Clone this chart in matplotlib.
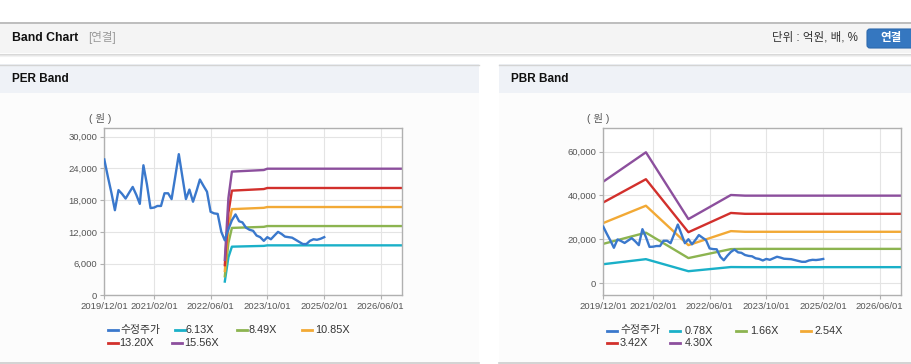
import matplotlib
matplotlib.use("Agg")
import matplotlib.pyplot as plt
import matplotlib.dates as mdates
from matplotlib.patches import Rectangle, FancyBboxPatch
import numpy as np
import datetime as dt

plt.rcParams['font.family'] = ['Liberation Sans', 'Noto Sans CJK KR', 'DejaVu Sans']

# ---------------- data ----------------
price_dates = [
    "2019-12", "2020-01", "2020-02", "2020-03", "2020-04", "2020-05", "2020-06", "2020-07",
    "2020-08", "2020-09", "2020-10", "2020-11", "2020-12", "2021-01", "2021-02", "2021-03",
    "2021-04", "2021-05", "2021-06", "2021-07", "2021-08", "2021-09", "2021-10", "2021-11",
    "2021-12", "2022-01", "2022-02", "2022-03", "2022-04", "2022-05", "2022-06", "2022-07",
    "2022-08", "2022-09", "2022-10", "2022-11", "2022-12", "2023-01", "2023-02", "2023-03",
    "2023-04", "2023-05", "2023-06", "2023-07", "2023-08", "2023-09", "2023-10", "2023-11",
    "2023-12", "2024-01", "2024-02", "2024-03", "2024-04", "2024-05", "2024-06", "2024-07",
    "2024-08", "2024-09", "2024-10", "2024-11", "2024-12", "2025-01", "2025-02"]
price_values = [
    25700, 22400, 19300, 16100, 19900, 19200, 18300, 19400,
    20500, 19000, 17300, 24600, 21000, 16500, 16600, 16900,
    16900, 19300, 19300, 18200, 22400, 26700, 22500, 18200,
    20000, 17700, 19800, 21900, 20700, 19600, 15800, 15500,
    15400, 12000, 10400, 12500, 14200, 15300, 14000, 13800,
    12800, 12400, 12200, 11300, 11000, 10300, 11000, 10600,
    11300, 12000, 11600, 11100, 11000, 10900, 10500, 10100,
    9700, 9700, 10300, 10600, 10500, 10700, 11000]

price_label = "수정주가"

per_band_dates = ["2022-10", "2022-11", "2022-12", "2023-09", "2023-10", "2026-12"]
per_labels = ["6.13X", "8.49X", "10.85X", "13.20X", "15.56X"]
per_b1 = [2600, 7200, 9200, 9350, 9450, 9450]
per_b2 = [3600, 9900, 12750, 12950, 13100, 13100]
per_b3 = [4600, 12800, 16300, 16550, 16700, 16700]
per_b4 = [5700, 15600, 19800, 20100, 20300, 20300]
per_b5 = [6700, 18400, 23400, 23700, 23950, 23950]

pbr_band_dates = ["2019-12", "2020-12", "2021-12", "2022-12", "2023-04", "2026-12"]
pbr_labels = ["0.78X", "1.66X", "2.54X", "3.42X", "4.30X"]
pbr_b1 = [8600, 10900, 5400, 7300, 7250, 7250]
pbr_b2 = [17900, 23000, 11400, 15500, 15600, 15600]
pbr_b3 = [27400, 35300, 17300, 23700, 23400, 23400]
pbr_b4 = [36800, 47400, 23200, 32000, 31600, 31600]
pbr_b5 = [46300, 59700, 29200, 40200, 39900, 39900]

x_ticks = ["2019/12/01", "2021/02/01", "2022/06/01", "2023/10/01", "2025/02/01", "2026/06/01"]
per_yticks = [0, 6000, 12000, 18000, 24000, 30000]
pbr_yticks = [0, 20000, 40000, 60000]

# ---------------- style ----------------
W, H = 912, 364
price_color = "#3a78cc"
band_colors = ["#1ab0c8", "#8cb450", "#f2a935", "#d2302c", "#8c4f9d"]

def todate(s):
    y, m = s.split("-")
    return dt.datetime(int(y), int(m), 1)

def tickdate(s):
    y, m, d = s.split("/")
    return dt.datetime(int(y), int(m), int(d))

fig = plt.figure(figsize=(W / 100, H / 100), dpi=100)
fig.patch.set_facecolor("white")

bg = fig.add_axes([0, 0, 1, 1], zorder=0)
bg.set_xlim(0, W)
bg.set_ylim(H, 0)
bg.axis("off")

# header bar
bg.add_patch(Rectangle((0, 22), W, 31, facecolor="#f4f4f4", edgecolor="none"))
bg.plot([0, W], [22.5, 22.5], color="#b4b4b4", lw=1.2)
for i, c in enumerate(["#d8d8d8", "#e6e6e6", "#f2f2f2"]):
    bg.plot([0, W], [53.5 + i, 53.5 + i], color=c, lw=0.8)
bg.text(12, 38, "Band Chart", fontsize=8.8, fontweight="bold", color="#111111", va="center")
bg.text(88, 38, "[연결]", fontsize=8.3, color="#9a9a9a", va="center")
bg.text(858, 37.5, "단위 : 억원, 배, %", fontsize=8.3, color="#333333", va="center", ha="right")
bg.add_patch(FancyBboxPatch((867, 29), 50, 19, boxstyle="round,pad=0,rounding_size=3",
                            facecolor="#3577c0", edgecolor="#2d69ad", lw=0.8))
bg.text(891, 38.5, "연결", fontsize=8.3, fontweight="bold", color="white", va="center", ha="center")

# panels
for (x0, x1, title) in [(0, 479, "PER Band"), (499, W, "PBR Band")]:
    bg.add_patch(Rectangle((x0, 64), x1 - x0, 29, facecolor="#eff2f7", edgecolor="none"))
    bg.plot([x0, x1], [64.5, 64.5], color="#d4d4d4", lw=1.0)
    bg.add_patch(Rectangle((x0, 93), x1 - x0, 269, facecolor="#fcfcfc", edgecolor="none"))
    bg.plot([x0, x1], [363, 363], color="#cccccc", lw=1.2)
    bg.text(x0 + 12, 79, title, fontsize=8.5, fontweight="bold", color="#111111", va="center")

bg.text(100, 118, "( 원 )", fontsize=7.5, color="#555555", va="center", ha="center")
bg.text(598, 118, "( 원 )", fontsize=7.5, color="#555555", va="center", ha="center")

def setup_axes(rect, ylim, yticks):
    ax = fig.add_axes(rect, zorder=2)
    ax.set_facecolor("white")
    ax.set_xlim(dt.datetime(2019, 12, 1), dt.datetime(2026, 12, 1))
    ax.set_ylim(*ylim)
    ax.set_xticks([tickdate(t) for t in x_ticks])
    ax.set_xticklabels(x_ticks)
    ax.set_yticks(yticks)
    ax.set_yticklabels([f"{v:,}" for v in yticks])
    ax.grid(True, color="#e4e4e4", lw=0.8)
    ax.set_axisbelow(True)
    for s in ax.spines.values():
        s.set_color("#b0b0b0")
        s.set_linewidth(1.0)
    ax.tick_params(axis="both", labelsize=6.8, colors="#555555", length=3, width=0.8, pad=2)
    ax.tick_params(axis="both", color="#b0b0b0")
    return ax

per_rect = [104.3 / W, 1 - 295.3 / H, (402 - 104.3) / W, (295.3 - 128) / H]
pbr_rect = [603.3 / W, 1 - 295.3 / H, (901 - 603.3) / W, (295.3 - 128.3) / H]

ax1 = setup_axes(per_rect, (0, 31650), per_yticks)
ax2 = setup_axes(pbr_rect, (-5600, 70650), pbr_yticks)

pdates = [todate(d) for d in price_dates]
lw = 1.7

per_bands = [per_b1, per_b2, per_b3, per_b4, per_b5]
pbr_bands = [pbr_b1, pbr_b2, pbr_b3, pbr_b4, pbr_b5]

for ax, bdates, bands in [(ax1, per_band_dates, per_bands), (ax2, pbr_band_dates, pbr_bands)]:
    bd = [todate(d) for d in bdates]
    for vals, c in zip(bands, band_colors):
        ax.plot(bd, vals, color=c, lw=lw, solid_joinstyle="round")
    ax.plot(pdates, price_values, color=price_color, lw=lw, solid_joinstyle="round", zorder=5)

# legends (manual flow layout, pixel positions)
def legend(entries):
    for (lx, ty, tx, label, color) in entries:
        bg.plot([lx, lx + 10], [ty, ty], color=color, lw=2.0)
        bg.text(tx, ty, label, fontsize=7.8, color="#333333", va="center", ha="left")

legend([
    (107.7, 330, 120.5, price_label, price_color),
    (175, 330, 186, per_labels[0], band_colors[0]),
    (236.7, 330, 248.3, per_labels[1], band_colors[1]),
    (301.7, 330, 315, per_labels[2], band_colors[2]),
    (107.7, 343, 119.3, per_labels[3], band_colors[3]),
    (171.7, 343, 184.3, per_labels[4], band_colors[4]),
])
legend([
    (606.7, 330.5, 620, price_label, price_color),
    (670, 330.5, 685, pbr_labels[0], band_colors[0]),
    (735.7, 330.5, 750, pbr_labels[1], band_colors[1]),
    (800.7, 330.5, 815, pbr_labels[2], band_colors[2]),
    (606.7, 343.3, 620, pbr_labels[3], band_colors[3]),
    (670, 343.3, 685, pbr_labels[4], band_colors[4]),
])

fig.savefig("out.png", dpi=100, facecolor=fig.get_facecolor())
